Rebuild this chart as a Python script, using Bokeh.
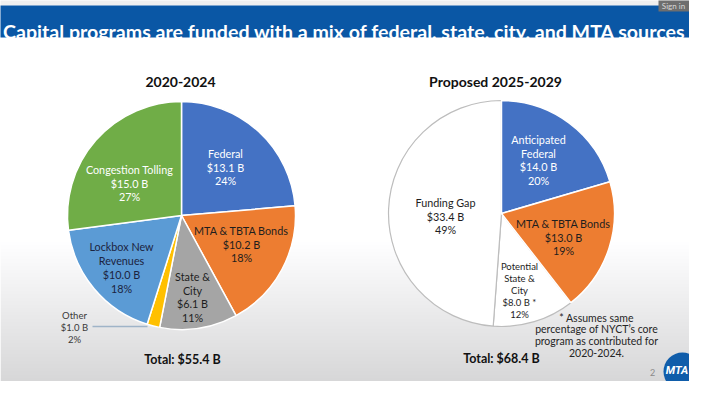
import numpy as np
from bokeh.plotting import figure
from bokeh.models import Range1d
from bokeh.core.properties import value
from bokeh.embed import file_html
from bokeh.resources import INLINE

# ---------------- data ----------------
slide_title = "Capital programs are funded with a mix of federal, state, city, and MTA sources"

p1_title = "2020-2024"
p1_names = ["Federal", "MTA & TBTA Bonds", "State &\nCity", "Other", "Lockbox New\nRevenues", "Congestion Tolling"]
p1_values = [13.1, 10.2, 6.1, 1.0, 10.0, 15.0]

p2_title = "Proposed 2025-2029"
p2_names = ["Anticipated\nFederal", "MTA & TBTA Bonds", "Potential\nState &\nCity", "Funding Gap"]
p2_values = [14.0, 13.0, 8.0, 33.4]
p2_value_marks = ["", "", " *", ""]

footnote = ["* Assumes same", "percentage of NYCT\u2019s core", "program as contributed for", "2020-2024."]
page_number = "2"

# ---------------- styles / layout ----------------
FONT = "Lato"
W, H = 705, 397
p1_colors = ["#4472C4", "#ED7D31", "#A5A5A5", "#FFC000", "#5B9BD5", "#70AD47"]
p2_colors = ["#4472C4", "#ED7D31", "#FFFFFF", "#FFFFFF"]
DARK = "#1E1E1E"
p1_label_pos = [(233, 174.5), (249, 251.5), (200, 304.5), (82, 335), (129, 275), (137, 190.5)]
p1_label_col = ["white", DARK, DARK, "#3A3A3A", "#1B2440", "white"]
p1_label_size = [10.8, 10.8, 10.8, 9.5, 10.8, 10.8]
p1_label_gap = [13.5, 13.5, 13.7, 12, 14, 13.5]
p2_label_pos = [(546, 167.5), (571, 244.5), (527, 298), (453, 223.5)]
p2_label_col = ["white", DARK, DARK, DARK]
p2_label_size = [10.8, 10.8, 9.5, 10.8]
p2_label_gap = [13.7, 13.5, 12, 13.5]
PIE1 = (189, 223, 114)
PIE2 = (509, 221, 113)


def X(x):
    return x


def Y(y):
    return H - y


p = figure(width=689, height=381, output_backend="svg", toolbar_location=None,
           x_range=Range1d(8, 697), y_range=Range1d(H - 389, H - 8),
           min_border=0, x_axis_type=None, y_axis_type=None)
p.outline_line_color = None
p.grid.visible = False
p.background_fill_color = "white"
p.border_fill_color = "white"

# background gradient (slide)
rows = np.arange(381)  # row 0 = bottom (ref y 389)
ref_y = 389 - rows
shade = np.where(ref_y < 250, 255.0, 255.0 - (ref_y - 250) / (397 - 250) * 42.0)
img = np.zeros((381, 1), dtype=np.uint32)
view = img.view(dtype=np.uint8).reshape((381, 1, 4))
view[:, 0, 0] = shade.astype(np.uint8)
view[:, 0, 1] = shade.astype(np.uint8)
view[:, 0, 2] = (shade + 1).clip(0, 255).astype(np.uint8)
view[:, 0, 3] = 255
p.image_rgba(image=[img], x=8, y=H - 389, dw=689, dh=381)

# header
p.quad(left=0, right=W, top=Y(0), bottom=Y(13), fill_color="#EFEFEF", line_color=None)
p.quad(left=0, right=W, top=Y(13), bottom=Y(45), fill_color="#0A57A5", line_color=None)
p.text(x=[352], y=[Y(38.5)], text=[slide_title], text_color="white", text_font=value(FONT),
       text_font_style="bold", text_font_size="19.6px", text_align="center", text_baseline="alphabetic")
# sign-in button
p.quad(left=666, right=W + 5, top=Y(4), bottom=Y(19), fill_color="#6E6E6E", line_color=None)
p.text(x=[681], y=[Y(13.5)], text=["Sign in"], text_color="#D8D8D8", text_font=value(FONT),
       text_font_size="8px", text_align="center", text_baseline="middle")


def pie_angles(vals):
    vals = np.array(vals, dtype=float)
    fr = vals / vals.sum()
    cum = np.concatenate([[0.0], np.cumsum(fr)[:-1]])
    start = np.pi / 2 - cum * 2 * np.pi
    end = start - fr * 2 * np.pi
    return start, end


def draw_labels(names, vals, marks, pos, cols, sizes, gaps):
    tot = sum(vals)
    for i, (nm, v) in enumerate(zip(names, vals)):
        lines = nm.split("\n") + [f"${v:.1f} B{marks[i]}", f"{round(100 * v / tot)}%"]
        n = len(lines)
        cx, cy = pos[i]
        ys = [cy + (k - (n - 1) / 2) * gaps[i] for k in range(n)]
        p.text(x=[X(cx)] * n, y=[Y(yy) for yy in ys], text=lines, text_color=cols[i],
               text_font=value(FONT), text_font_size=f"{sizes[i]}px",
               text_align="center", text_baseline="middle")


# pie 1
cx, cy, r = PIE1
s1, e1 = pie_angles(p1_values)
p.wedge(x=X(cx), y=Y(cy), radius=r, start_angle=s1, end_angle=e1, direction="clock",
        fill_color=p1_colors, line_color="white", line_width=1.5)
draw_labels(p1_names, p1_values, [""] * len(p1_values), p1_label_pos, p1_label_col, p1_label_size, p1_label_gap)
# leader for "Other"
p.line(x=[100, 155], y=[Y(334), Y(334)], line_color="#9FB4C8", line_width=1.5)
p.text(x=[X(188)], y=[Y(89)], text=[p1_title], text_color="#111111", text_font=value(FONT),
       text_font_style="bold", text_font_size="14px", text_align="center", text_baseline="middle")
p.text(x=[X(190)], y=[Y(367)], text=[f"Total: ${sum(p1_values):.1f} B"], text_color="#111111",
       text_font=value(FONT), text_font_style="bold", text_font_size="12.5px",
       text_align="center", text_baseline="middle")

# pie 2
cx, cy, r = PIE2
s2, e2 = pie_angles(p2_values)
idx_white = [2, 3]
idx_col = [0, 1]
p.wedge(x=X(cx), y=Y(cy), radius=r, start_angle=s2[idx_white], end_angle=e2[idx_white],
        direction="clock", fill_color="white", line_color="#BDBDBD", line_width=1.2)
p.wedge(x=X(cx), y=Y(cy), radius=r, start_angle=s2[idx_col], end_angle=e2[idx_col],
        direction="clock", fill_color=[p2_colors[i] for i in idx_col], line_color="white", line_width=1.5)
draw_labels(p2_names, p2_values, p2_value_marks, p2_label_pos, p2_label_col, p2_label_size, p2_label_gap)
p.text(x=[X(503)], y=[Y(89)], text=[p2_title], text_color="#111111", text_font=value(FONT),
       text_font_style="bold", text_font_size="14px", text_align="center", text_baseline="middle")
p.text(x=[X(509)], y=[Y(366)], text=[f"Total: ${sum(p2_values):.1f} B"], text_color="#111111",
       text_font=value(FONT), text_font_style="bold", text_font_size="12.5px",
       text_align="center", text_baseline="middle")

# footnote
fy = [325, 336.7, 348.3, 360]
p.text(x=[604] * 4, y=[Y(v) for v in fy], text=footnote, text_color="#262626", text_font=value(FONT),
       text_font_size="10.5px", text_align="center", text_baseline="middle")

# page number and logo
p.text(x=[660], y=[Y(380)], text=[page_number], text_color="#8A8A8A", text_font=value(FONT),
       text_font_size="9px", text_align="center", text_baseline="middle")
p.scatter(x=[690], y=[Y(379)], size=38, marker="circle", fill_color="#105DAA", line_color=None)
p.text(x=[684.5], y=[Y(378)], text=["MTA"], text_color="white", text_font=value("Roboto"),
       text_font_style="bold italic", text_font_size="11px", text_align="center", text_baseline="middle")

open("out.html", "w").write(file_html(p, INLINE))
